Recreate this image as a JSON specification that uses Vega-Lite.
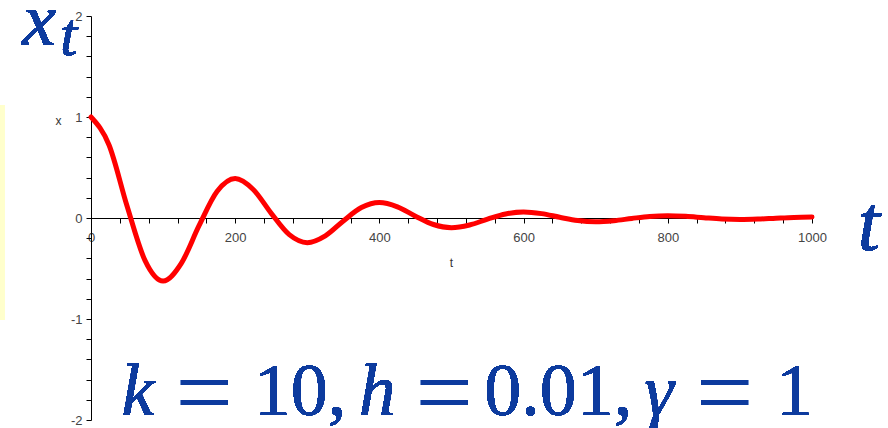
{
  "$schema": "https://vega.github.io/schema/vega-lite/v6.json",
  "width": 721,
  "height": 404,
  "autosize": {"type": "none"},
  "padding": {"left": 91, "top": 16, "right": 76, "bottom": 8},
  "background": "white",
  "resolve": {"axis": {"x": "independent", "y": "independent"}},
  "config": {
    "view": {"stroke": null},
    "axis": {
      "grid": false,
      "domainColor": "#000000",
      "domainWidth": 1,
      "tickColor": "#000000",
      "tickWidth": 1,
      "tickSize": 5,
      "labelFont": "Liberation Sans",
      "labelFontSize": 13,
      "labelColor": "#444444",
      "labelFlush": false,
      "labelOverlap": false,
      "titleFont": "Liberation Sans",
      "titleFontSize": 12,
      "titleFontWeight": "normal",
      "titleColor": "#333333"
    },
    "text": {"font": "Liberation Serif", "color": "#0d3b9e", "align": "center", "baseline": "alphabetic"}
  },
  "data": {
    "values": [
      {"t": 0, "x": 1.0}, {"t": 25, "x": 0.723}, {"t": 50, "x": 0.1186}, {"t": 75, "x": -0.4224},
      {"t": 100, "x": -0.6249}, {"t": 125, "x": -0.4518}, {"t": 150, "x": -0.0741}, {"t": 175, "x": 0.264},
      {"t": 200, "x": 0.3905}, {"t": 225, "x": 0.2823}, {"t": 250, "x": 0.0463}, {"t": 275, "x": -0.165},
      {"t": 300, "x": -0.244}, {"t": 325, "x": -0.1765}, {"t": 350, "x": -0.0289}, {"t": 375, "x": 0.1031},
      {"t": 400, "x": 0.1525}, {"t": 425, "x": 0.1103}, {"t": 450, "x": 0.0181}, {"t": 475, "x": -0.0644},
      {"t": 500, "x": -0.0953}, {"t": 525, "x": -0.0689}, {"t": 550, "x": -0.0113}, {"t": 575, "x": 0.0403},
      {"t": 600, "x": 0.0596}, {"t": 625, "x": 0.0431}, {"t": 650, "x": 0.0071}, {"t": 675, "x": -0.0252},
      {"t": 700, "x": -0.0372}, {"t": 725, "x": -0.0269}, {"t": 750, "x": -0.0044}, {"t": 775, "x": 0.0157},
      {"t": 800, "x": 0.0233}, {"t": 825, "x": 0.0168}, {"t": 850, "x": 0.0028}, {"t": 875, "x": -0.0099},
      {"t": 900, "x": -0.0145}, {"t": 925, "x": -0.0105}, {"t": 950, "x": -0.0017}, {"t": 975, "x": 0.0061},
      {"t": 1000, "x": 0.0091}
    ]
  },
  "layer": [
    {
      "mark": {"type": "line", "color": "#ff0000", "strokeWidth": 5, "strokeCap": "round", "interpolate": "monotone"},
      "encoding": {
        "x": {
          "field": "t", "type": "quantitative",
          "scale": {"domain": [0, 1000], "nice": false, "zero": false},
          "axis": {
            "orient": "bottom", "offset": -202,
            "values": [0, 40, 80, 120, 160, 200, 240, 280, 320, 360, 400, 440, 480, 520, 560, 600, 640, 680, 720, 760, 800, 840, 880, 920, 960, 1000],
            "labelExpr": "datum.value % 200 == 0 ? '' + datum.value : ''",
            "labelOverlap": false,
            "labelFlush": false,
            "labelPadding": 8,
            "title": "t", "titleX": 360, "titleY": 44, "titleBaseline": "middle", "titleAlign": "center"
          }
        },
        "y": {
          "field": "x", "type": "quantitative",
          "scale": {"domain": [-2, 2], "nice": false, "zero": false},
          "axis": {
            "orient": "left",
            "values": [-2, -1.8, -1.6, -1.4, -1.2, -1, -0.8, -0.6, -0.4, -0.2, 0, 0.2, 0.4, 0.6, 0.8, 1, 1.2, 1.4, 1.6, 1.8, 2],
            "labelExpr": "abs(datum.value - round(datum.value)) < 0.001 ? '' + round(datum.value) : ''",
            "labelOverlap": false,
            "labelFlush": false,
            "labelPadding": 4,
            "title": "x", "titleAngle": 0, "titleX": -33, "titleY": 104, "titleBaseline": "middle", "titleAlign": "center"
          }
        }
      }
    },
    {
      "mark": {"type": "rect", "color": "#ffffcc"},
      "encoding": {"x": {"datum": -126, "axis": null}, "x2": {"datum": -120}, "y": {"datum": 1.12, "axis": null}, "y2": {"datum": -1.01}}
    },
    {
      "mark": {"type": "text", "text": "x", "fontStyle": "italic", "fontSize": 76},
      "encoding": {"x": {"datum": -72, "axis": null}, "y": {"datum": 1.713, "axis": null}}
    },
    {
      "mark": {"type": "text", "text": "t", "fontStyle": "italic", "fontSize": 62},
      "encoding": {"x": {"datum": -31, "axis": null}, "y": {"datum": 1.614, "axis": null}}
    },
    {
      "mark": {"type": "text", "text": "t", "fontStyle": "italic", "fontSize": 80},
      "encoding": {"x": {"datum": 1079, "axis": null}, "y": {"datum": -0.317, "axis": null}}
    },
    {
      "mark": {"type": "text", "text": "k", "fontStyle": "italic", "fontSize": 74},
      "encoding": {"x": {"datum": 65, "axis": null}, "y": {"datum": -1.95, "axis": null}}
    },
    {
      "mark": {"type": "text", "text": "=", "fontSize": 100},
      "encoding": {"x": {"datum": 157, "axis": null}, "y": {"datum": -2.06, "axis": null}}
    },
    {
      "mark": {"type": "text", "text": "10,", "fontSize": 74},
      "encoding": {"x": {"datum": 290, "axis": null}, "y": {"datum": -1.95, "axis": null}}
    },
    {
      "mark": {"type": "text", "text": "h", "fontStyle": "italic", "fontSize": 74},
      "encoding": {"x": {"datum": 397, "axis": null}, "y": {"datum": -1.95, "axis": null}}
    },
    {
      "mark": {"type": "text", "text": "=", "fontSize": 100},
      "encoding": {"x": {"datum": 490, "axis": null}, "y": {"datum": -2.06, "axis": null}}
    },
    {
      "mark": {"type": "text", "text": "0.01,", "fontSize": 74},
      "encoding": {"x": {"datum": 648, "axis": null}, "y": {"datum": -1.95, "axis": null}}
    },
    {
      "mark": {"type": "text", "text": "γ", "fontStyle": "italic", "fontSize": 74},
      "encoding": {"x": {"datum": 788, "axis": null}, "y": {"datum": -1.95, "axis": null}}
    },
    {
      "mark": {"type": "text", "text": "=", "fontSize": 100},
      "encoding": {"x": {"datum": 879, "axis": null}, "y": {"datum": -2.06, "axis": null}}
    },
    {
      "mark": {"type": "text", "text": "1", "fontSize": 74},
      "encoding": {"x": {"datum": 976, "axis": null}, "y": {"datum": -1.95, "axis": null}}
    }
  ]
}
